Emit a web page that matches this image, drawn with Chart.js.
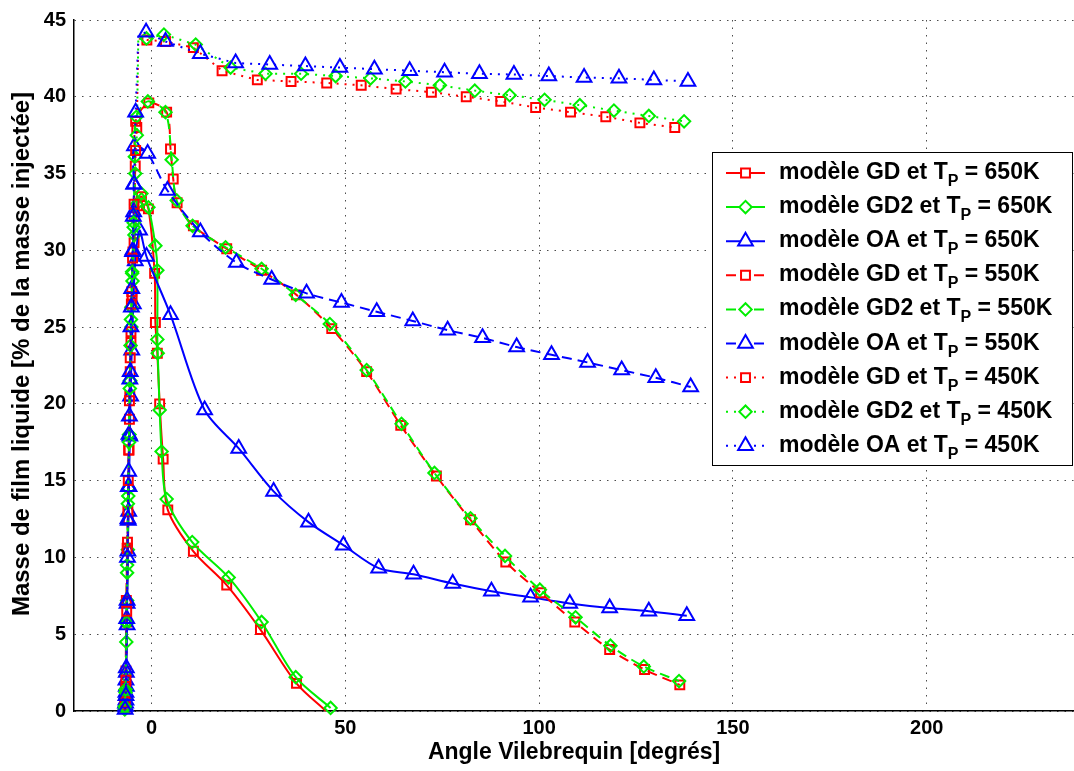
<!DOCTYPE html>
<html>
<head>
<meta charset="utf-8">
<script src="https://cdn.jsdelivr.net/npm/chart.js@4.4.1/dist/chart.umd.min.js"></script>
<style>
    body { margin: 0; background: #fff; }
    #wrap { width: 1074px; height: 771px; position: relative; }
</style>
</head>
<body>
<div id="wrap"><canvas id="filmChart"></canvas></div>
<script>
// [angle, masse] pairs
const gd650 = [[-6.8,0.2],[-6.7,1.0],[-6.6,2.6],[-6.4,5.8],[-6.2,10.6],[-6.0,12.5],[-5.8,17.0],[-5.6,20.5],[-5.3,24.0],[-5.0,27.0],[-4.5,30.5],[-3.6,32.9],[-2.6,33.5],[-0.8,32.7],[0.8,28.5],[1.0,25.3],[1.5,23.3],[2.1,20.0],[3.0,16.4],[4.2,13.1],[10.8,10.4],[19.4,8.2],[28.1,5.3],[37.4,1.8],[45.0,0.0]];
const gd2_650 = [[-6.9,0.1],[-6.7,0.8],[-6.6,2.3],[-6.4,5.7],[-6.3,7.2],[-6.1,10.5],[-5.9,14.5],[-5.7,18.0],[-5.5,21.5],[-5.2,25.0],[-4.9,28.0],[-4.4,31.0],[-3.9,33.0],[-2.6,33.7],[-0.8,32.8],[1.0,30.3],[1.5,28.7],[1.5,24.2],[1.6,23.3],[2.1,19.6],[2.6,16.9],[3.9,13.8],[10.5,11.0],[19.9,8.7],[28.4,5.8],[37.2,2.2],[46.2,0.2]];
const oa650 = [[-6.7,0.3],[-6.6,0.7],[-6.6,1.2],[-6.5,1.6],[-6.5,2.5],[-6.3,5.6],[-6.3,7.0],[-6.1,10.4],[-6.0,12.4],[-5.9,13.0],[-5.8,14.6],[-5.6,17.9],[-5.4,20.5],[-5.1,23.5],[-4.7,26.5],[-4.2,29.3],[-3.1,31.3],[-1.3,29.6],[4.9,25.8],[13.7,19.6],[22.5,17.1],[31.5,14.3],[40.5,12.3],[49.5,10.8],[58.6,9.3],[67.6,8.9],[77.7,8.3],[87.7,7.8],[97.8,7.4],[107.9,7.0],[118.2,6.7],[128.3,6.5],[138.1,6.2]];

const gd550 = [[-6.8,0.4],[-6.7,1.6],[-6.5,7.2],[-6.3,10.6],[-6.1,13.0],[-5.9,17.0],[-5.7,20.2],[-5.5,22.1],[-5.3,24.7],[-5.1,27.3],[-4.8,29.9],[-4.5,32.2],[-4.2,35.5],[-4.1,38.4],[-0.7,39.6],[3.9,39.0],[4.9,36.6],[5.6,34.65],[6.6,33.1],[10.8,31.6],[19.4,30.1],[28.4,28.7],[37.4,27.1],[46.5,24.9],[55.5,22.1],[64.3,18.6],[73.5,15.3],[82.3,12.45],[91.4,9.7],[100.4,7.7],[109.2,5.8],[118.2,4.0],[127.2,2.7],[136.3,1.7]];
const gd2_550 = [[-6.9,0.2],[-6.7,1.2],[-6.5,5.8],[-6.3,9.5],[-6.0,14.0],[-5.8,18.0],[-5.6,21.5],[-5.4,23.8],[-5.2,26.3],[-5.0,28.6],[-4.6,31.5],[-4.3,36.1],[-3.9,38.7],[-0.95,39.7],[3.6,39.0],[5.2,35.9],[6.5,33.25],[10.6,31.6],[19.1,30.2],[28.4,28.8],[37.2,27.1],[46.0,25.2],[55.5,22.2],[64.5,18.7],[73.0,15.5],[82.3,12.55],[91.2,10.1],[100.2,7.9],[109.4,6.1],[118.4,4.25],[127.0,2.9],[136.1,1.95]];
const oa550 = [[-6.7,0.5],[-6.6,2.0],[-6.4,6.0],[-6.2,10.0],[-6.0,14.6],[-5.8,18.0],[-5.6,21.6],[-5.3,25.0],[-5.1,27.5],[-4.8,30.0],[-4.6,32.5],[-4.6,34.3],[-4.4,36.8],[-1.0,36.3],[4.1,33.9],[12.6,31.2],[21.9,29.2],[31.0,28.1],[40.0,27.2],[49.0,26.6],[58.1,26.0],[67.4,25.4],[76.4,24.8],[85.4,24.3],[94.2,23.7],[103.2,23.2],[112.5,22.7],[121.3,22.2],[130.1,21.7],[139.1,21.1]];

const gd450 = [[-6.8,0.6],[-6.6,2.0],[-6.4,6.5],[-6.2,11.0],[-6.0,15.0],[-5.7,19.0],[-5.5,23.0],[-5.2,26.5],[-4.9,29.5],[-4.5,33.0],[-4.1,36.5],[-3.8,38.0],[-3.4,43.8],[-1.2,43.7],[3.6,43.6],[10.8,43.2],[18.2,41.7],[27.3,41.1],[36.0,41.0],[45.2,40.9],[54.1,40.75],[63.1,40.5],[72.2,40.3],[81.2,40.0],[90.1,39.7],[99.1,39.3],[108.1,39.0],[117.2,38.7],[126.0,38.3],[135.0,38.0]];
const gd2_450 = [[-6.9,0.3],[-6.7,1.4],[-6.5,4.5],[-6.3,9.0],[-6.1,13.5],[-5.8,17.5],[-5.6,21.0],[-5.3,25.5],[-5.0,28.5],[-4.6,31.8],[-4.2,35.0],[-3.8,37.5],[-3.4,43.9],[-1.3,43.8],[3.2,44.05],[11.4,43.4],[20.4,41.9],[29.4,41.5],[38.6,41.5],[47.5,41.35],[56.5,41.2],[65.5,41.0],[74.4,40.75],[83.4,40.4],[92.4,40.1],[101.4,39.8],[110.5,39.45],[119.3,39.1],[128.3,38.75],[137.4,38.4]];
const oa450 = [[-6.8,0.1],[-6.6,1.0],[-6.5,2.8],[-6.3,7.2],[-6.1,12.5],[-5.9,15.6],[-5.7,19.2],[-5.5,22.1],[-5.2,26.3],[-4.9,29.9],[-4.7,32.2],[-4.5,34.3],[-4.1,39.0],[-3.4,44.0],[-1.4,44.2],[3.6,43.6],[12.6,42.8],[21.7,42.2],[30.5,42.1],[39.7,42.0],[48.6,41.9],[57.5,41.8],[66.6,41.7],[75.6,41.6],[84.6,41.5],[93.5,41.45],[102.5,41.35],[111.6,41.25],[120.6,41.2],[129.6,41.1],[138.4,41.0]];

const models = ['GD', 'GD2', 'OA'];
const temps = ['650K', '550K', '450K'];
const xTicks = [0, 50, 100, 150, 200];
const yTitle = 'Masse de film liquide [% de la masse injectée]';

const series = [gd650, gd2_650, oa650, gd550, gd2_550, oa550, gd450, gd2_450, oa450];
// points drawn without marker (line end / corner)
const noMarker = [[24], [], [], [], [], [], [12], [12], [13]];

const colors = ['#ff0000', '#00ee00', '#0000ff'];
const shapes = ['rect', 'rectRot', 'triangle'];
const sizes = [6.3, 6.2, 8.5];
const dashes = [[], [10, 6], [2, 6]];
const fontFam = '"Liberation Sans", Arial, sans-serif';

const datasets = series.map((pts, i) => {
    const m = i % 3, t = Math.floor(i / 3);
    return {
        label: 'modèle ' + models[m] + ' et T_P = ' + temps[t],
        data: pts.map(p => ({ x: p[0], y: p[1] })),
        showLine: true,
        borderColor: colors[m],
        borderWidth: 2,
        borderDash: dashes[t],
        tension: t === 2 ? 0 : 0.3,
        pointStyle: shapes[m],
        pointRadius: (c) => noMarker[i].includes(c.dataIndex) ? 0 : sizes[m],
        pointBorderColor: colors[m],
        pointBackgroundColor: 'rgba(0,0,0,0)',
        pointBorderWidth: 2,
        clip: false,
        order: -i,
    };
});

const legendBox = {
    id: 'legendBox',
    afterDraw(chart) {
        const ctx = chart.ctx;
        ctx.save();
        // y axis title, drawn by hand so it can sit a bit above centre like the original
        ctx.translate(22, 354);
        ctx.rotate(-Math.PI / 2);
        ctx.font = 'bold 24px ' + fontFam;
        ctx.fillStyle = '#000';
        ctx.textAlign = 'center';
        ctx.textBaseline = 'middle';
        ctx.fillText(yTitle, 0, 0);
        ctx.setTransform(1, 0, 0, 1, 0, 0);
        ctx.textAlign = 'left';

        ctx.fillStyle = '#fff';
        ctx.fillRect(712, 152, 360, 314);
        ctx.strokeStyle = '#000';
        ctx.lineWidth = 1;
        ctx.strokeRect(712.5, 152.5, 360, 313);
        datasets.forEach((ds, i) => {
            const m = i % 3, t = Math.floor(i / 3);
            const y = 173 + i * 34.1;
            ctx.strokeStyle = ds.borderColor;
            ctx.lineWidth = 2;
            ctx.setLineDash(ds.borderDash);
            ctx.beginPath();
            if (t === 0) {
                ctx.moveTo(726, y); ctx.lineTo(765, y);
            } else {
                ctx.moveTo(726, y); ctx.lineTo(737, y);
                ctx.moveTo(754, y); ctx.lineTo(765, y);
            }
            ctx.stroke();
            ctx.setLineDash([]);
            ctx.fillStyle = '#fff';
            Chart.helpers.drawPoint(ctx, { pointStyle: shapes[m], radius: sizes[m], rotation: 0, borderWidth: 2 }, 745.5, y);

            ctx.fillStyle = '#000';
            ctx.textBaseline = 'alphabetic';
            ctx.font = 'bold 23px ' + fontFam;
            const head = 'modèle ' + models[m] + ' et T';
            let x = 779;
            ctx.fillText(head, x, y + 6);
            x += ctx.measureText(head).width;
            ctx.font = 'bold 16px ' + fontFam;
            ctx.fillText('P', x, y + 13);
            x += ctx.measureText('P').width;
            ctx.font = 'bold 23px ' + fontFam;
            ctx.fillText(' = ' + temps[t], x, y + 6);
        });
        ctx.restore();
    }
};

const gridStyle = { color: 'rgba(0,0,0,0.7)', lineWidth: 1, drawTicks: false };
const tickFont = { family: fontFam, size: 20, weight: 'bold' };
const titleFont = { family: fontFam, size: 23, weight: 'bold' };

new Chart(document.getElementById('filmChart'), {
    type: 'scatter',
    data: { datasets: datasets },
    options: {
        responsive: true,
        maintainAspectRatio: false,
        animation: false,
        layout: { autoPadding: false, padding: { top: 17, right: 0, left: 0, bottom: 0 } },
        scales: {
            x: {
                type: 'linear',
                min: -20,
                max: 238,
                afterBuildTicks: (axis) => { axis.ticks = xTicks.map(v => ({ value: v })); },
                afterFit: (axis) => { axis.height = 60; axis.paddingLeft = 0; axis.paddingRight = 0; },
                grid: gridStyle,
                border: { display: true, color: '#000', width: 1.5, dash: [1.5, 6] },
                ticks: { color: '#000', font: tickFont, padding: 5, maxRotation: 0 },
                title: {
                    display: true,
                    text: 'Angle Vilebrequin [degrés]',
                    color: '#000',
                    font: titleFont,
                    padding: { top: 0, bottom: 5 },
                },
            },
            y: {
                min: 0,
                max: 45,
                ticks: { stepSize: 5, color: '#000', font: tickFont, padding: 8 },
                afterFit: (axis) => { axis.width = 74; },
                grid: gridStyle,
                border: { display: true, color: '#000', width: 1.5, dash: [1.5, 6] },
                title: { display: false },
            },
        },
        plugins: {
            legend: { display: false },
            tooltip: { enabled: false },
        },
    },
    plugins: [legendBox],
});
</script>
</body>
</html>
